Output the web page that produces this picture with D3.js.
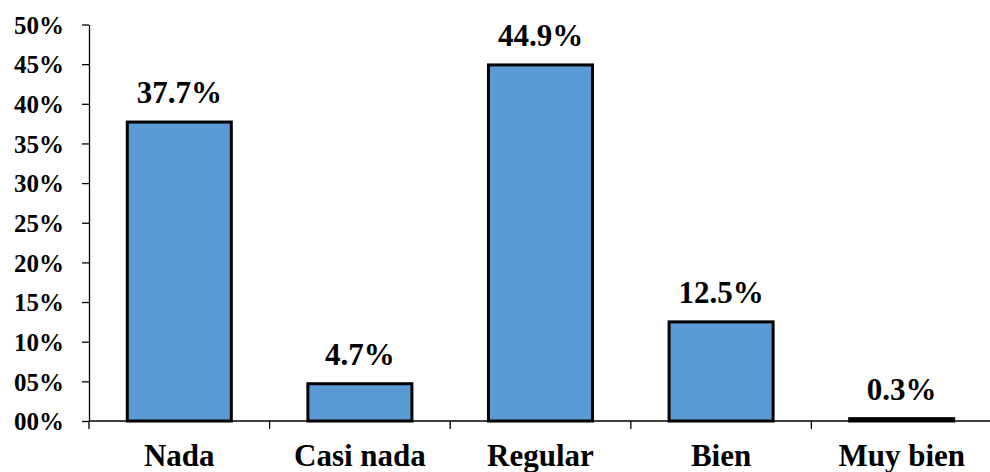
<!DOCTYPE html>
<html>
<head>
<meta charset="utf-8">
<script src="https://cdn.jsdelivr.net/npm/d3@7/dist/d3.min.js"></script>
<style>
  html, body { margin: 0; padding: 0; background: #fff; }
  svg { display: block; }
  text { font-family: "Liberation Serif", "Times New Roman", serif; font-weight: bold; fill: #000; }
</style>
</head>
<body>
<svg id="chart" width="990" height="472"></svg>
<script>
// Response distribution (percent of respondents)
const categories = ["Nada", "Casi nada", "Regular", "Bien", "Muy bien"];
const values = [37.7, 4.7, 44.9, 12.5, 0.3];
const yTicks = [0, 5, 10, 15, 20, 25, 30, 35, 40, 45, 50];
const yTickLabels = ["00%", "05%", "10%", "15%", "20%", "25%", "30%", "35%", "40%", "45%", "50%"];

const svg = d3.select("#chart");
const plotLeft = 89, plotRight = 992, plotTop = 24.5, plotBottom = 421;

const x = d3.scaleBand().domain(categories).range([plotLeft, plotRight]).paddingInner(0.424).paddingOuter(0.212);
const y = d3.scaleLinear().domain([0, 50]).range([plotBottom, plotTop]);

// Bars
svg.append("g").selectAll("rect")
  .data(categories)
  .join("rect")
  .attr("x", d => x(d))
  .attr("y", (d, i) => y(values[i]))
  .attr("width", x.bandwidth())
  .attr("height", (d, i) => y(0) - y(values[i]))
  .attr("fill", "#5B9BD5")
  .attr("stroke", "#000")
  .attr("stroke-width", 3);

// Y axis
const yAxis = d3.axisLeft(y)
  .tickValues(yTicks)
  .tickFormat((d, i) => yTickLabels[i])
  .tickSize(7)
  .tickSizeOuter(0)
  .tickPadding(18);
const gy = svg.append("g").attr("transform", `translate(${plotLeft},0)`).call(yAxis);
gy.select(".domain").attr("stroke", "#000").attr("stroke-width", 1.3);
gy.selectAll(".tick line").attr("stroke", "#000").attr("stroke-width", 1.3);
gy.selectAll(".tick text")
  .style("font-family", '"Liberation Serif", "Times New Roman", serif')
  .style("font-weight", "bold")
  .style("font-size", "25px")
  .attr("fill", "#000")
  .attr("dy", "0.35em");

// X axis line with ticks at band boundaries
const gx = svg.append("g");
gx.append("line")
  .attr("x1", plotLeft).attr("x2", 990)
  .attr("y1", plotBottom).attr("y2", plotBottom)
  .attr("stroke", "#000").attr("stroke-width", 1.3);
const step = x.step();
const boundaries = d3.range(categories.length).map(i => x(categories[i]) - step * x.paddingInner() / 2);
gx.selectAll("line.tick")
  .data(boundaries)
  .join("line")
  .attr("class", "tick")
  .attr("x1", d => d).attr("x2", d => d)
  .attr("y1", plotBottom).attr("y2", plotBottom + 8)
  .attr("stroke", "#000").attr("stroke-width", 1.3);

// Category labels
svg.append("g").selectAll("text")
  .data(categories)
  .join("text")
  .attr("x", d => x(d) + x.bandwidth() / 2)
  .attr("y", 466)
  .attr("text-anchor", "middle")
  .style("font-size", "31px")
  .text(d => d);

// Value labels
svg.append("g").selectAll("text")
  .data(categories)
  .join("text")
  .attr("x", d => x(d) + x.bandwidth() / 2)
  .attr("y", (d, i) => y(values[i]) - 19)
  .attr("text-anchor", "middle")
  .style("font-size", "31px")
  .text((d, i) => values[i].toFixed(1) + "%");
</script>
</body>
</html>
